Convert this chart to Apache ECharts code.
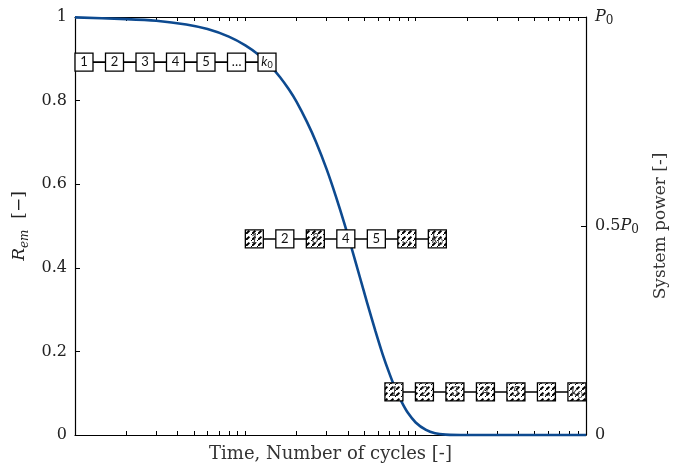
<!DOCTYPE html>
<html>
<head>
<meta charset="utf-8">
<script src="https://cdn.jsdelivr.net/npm/echarts@6/dist/echarts.min.js"></script>
<style>
  html, body { margin: 0; padding: 0; background: #fff; }
  #chart { width: 682px; height: 468px; }
</style>
</head>
<body>
<div id="chart"></div>
<script>
// Reliability of the electro-mechanical system over time (log scale of cycles)
const timeCycles = [1, 2, 3, 4.5, 6, 8, 10, 12, 14, 16, 18, 20, 23, 26, 30, 34, 38, 42, 47, 52,
                    58, 64, 70, 76, 83, 90, 100, 115, 130, 150, 200, 300, 500, 1000];
const reliability = [0.999, 0.995, 0.991, 0.982, 0.971, 0.953, 0.932, 0.909, 0.883, 0.856,
                     0.827, 0.797, 0.749, 0.701, 0.636, 0.571, 0.508, 0.448, 0.378, 0.315,
                     0.249, 0.193, 0.148, 0.111, 0.078, 0.053, 0.030, 0.012, 0.004, 0.001,
                     0, 0, 0, 0];

// Minor ticks of the logarithmic time axis
const logTickValues = [2, 3, 4, 5, 6, 7, 8, 9, 10, 20, 30, 40, 50, 60, 70, 80, 90, 100,
                       200, 300, 400, 500, 600, 700, 800, 900];

// Left axis ticks
const leftTickValues = [0, 0.2, 0.4, 0.6, 0.8, 1];

// Component chains: start time, vertical level, and failed (hatched) components
const chainLabels = ['1', '2', '3', '4', '5', '…', 'k0'];
const chainStart = [1, 10, 66];
const chainLevel = [0.892, 0.469, 0.103];
const chainFailed = [
  [0, 0, 0, 0, 0, 0, 0],
  [1, 0, 1, 0, 0, 1, 1],
  [1, 1, 1, 1, 1, 1, 1]
];

const SERIF = '"DejaVu Serif", "Liberation Serif", serif';
const BOX_FONT = 'Lato, "Open Sans", sans-serif';

function makeHatch() {
  const s = 6;
  const c = document.createElement('canvas');
  c.width = s; c.height = s;
  const g = c.getContext('2d');
  g.fillStyle = '#fff';
  g.fillRect(0, 0, s, s);
  g.strokeStyle = '#000';
  g.lineWidth = 2;
  g.lineCap = 'butt';
  g.beginPath();
  g.moveTo(0, s); g.lineTo(3.4, 2.6);
  g.stroke();
  g.fillStyle = '#000';
  g.fillRect(5, 0, 1, 1);
  return c;
}
const hatch = makeHatch();

const chart = echarts.init(document.getElementById('chart'), null, { renderer: 'canvas' });

const BOX = 18, STEP = 30.5;

function renderChain(params, api) {
  const i = params.dataIndex;
  const p = api.coord([api.value(0), api.value(1)]);
  const left = p[0], cy = p[1];
  const children = [];
  const n = chainLabels.length;
  children.push({
    type: 'line',
    shape: { x1: left + BOX / 2, y1: cy, x2: left + (n - 1) * STEP + BOX / 2, y2: cy },
    style: { stroke: '#000', lineWidth: 1.6 }
  });
  for (let k = 0; k < n; k++) {
    const x = left + k * STEP;
    const failed = chainFailed[i][k] === 1;
    const col = failed ? '#444' : '#111';
    children.push({
      type: 'rect',
      shape: { x: x, y: cy - BOX / 2, width: BOX, height: BOX },
      style: {
        fill: failed ? { image: hatch, repeat: 'repeat' } : '#fff',
        stroke: '#000',
        lineWidth: 1.3
      }
    });
    const lab = chainLabels[k];
    const txt = lab === 'k0' ? '{k|k}{z|0}' : lab;
    children.push({
      type: 'text',
      z2: 10,
      style: {
        text: txt,
        x: x + BOX / 2,
        y: cy,
        align: 'center',
        verticalAlign: 'middle',
        fontFamily: BOX_FONT,
        fontSize: 13,
        fontStyle: failed ? 'italic' : 'normal',
        fill: col,
        rich: {
          k: { fontStyle: 'italic', fontSize: 13, fontFamily: BOX_FONT, fill: col, lineHeight: 15, verticalAlign: 'middle' },
          z: { fontSize: 9, fontFamily: BOX_FONT, fill: col, lineHeight: 15, verticalAlign: 'bottom' }
        }
      }
    });
  }
  return { type: 'group', children: children };
}

const logAxisBase = {
  type: 'log',
  logBase: 10,
  min: 1,
  max: 1000,
  splitLine: { show: false },
  axisLine: { show: true, onZero: false, lineStyle: { color: '#000', width: 1.2 } },
  axisTick: { show: true, inside: true, length: 4, customValues: logTickValues, lineStyle: { color: '#000', width: 1 } },
  axisLabel: { show: false }
};

chart.setOption({
  animation: false,
  backgroundColor: '#fff',
  grid: { left: 75, right: 96, top: 17, bottom: 33 },
  xAxis: [
    Object.assign({}, logAxisBase, {
      position: 'bottom',
      name: 'Time, Number of cycles [-]',
      nameLocation: 'middle',
      nameGap: 10,
      nameTextStyle: { fontFamily: SERIF, fontSize: 18, color: '#333', verticalAlign: 'top' }
    }),
    Object.assign({}, logAxisBase, { position: 'top' })
  ],
  yAxis: [
    {
      type: 'value',
      position: 'left',
      min: 0,
      max: 1,
      interval: 0.2,
      splitLine: { show: false },
      axisLine: { show: true, onZero: false, lineStyle: { color: '#000', width: 1.2 } },
      axisTick: { show: true, inside: true, length: 5, customValues: leftTickValues, lineStyle: { color: '#000' } },
      axisLabel: {
        margin: 8,
        fontFamily: SERIF,
        fontSize: 16,
        color: '#222',
        formatter: v => (v === 0 || v === 1) ? String(v) : v.toFixed(1)
      },
      name: '{r|R}{s|em}{n|  [−]}',
      nameLocation: 'middle',
      nameRotate: 90,
      nameGap: 43,
      nameTextStyle: {
        rich: {
          r: { fontFamily: SERIF, fontStyle: 'italic', fontSize: 17, color: '#222', lineHeight: 22, verticalAlign: 'middle' },
          s: { fontFamily: SERIF, fontStyle: 'italic', fontSize: 12, color: '#222', lineHeight: 22, verticalAlign: 'bottom' },
          n: { fontFamily: SERIF, fontSize: 17, color: '#222', lineHeight: 22, verticalAlign: 'middle' }
        }
      }
    },
    {
      type: 'value',
      position: 'right',
      min: 0,
      max: 1,
      interval: 0.5,
      splitLine: { show: false },
      axisLine: { show: true, onZero: false, lineStyle: { color: '#000', width: 1.2 } },
      axisTick: { show: true, inside: true, length: 5, lineStyle: { color: '#000' } },
      axisLabel: {
        margin: 9,
        fontFamily: SERIF,
        fontSize: 16,
        color: '#222',
        formatter: v => v === 0 ? '0' : (v === 1 ? '{i|P}{s|0}' : '0.5{i|P}{s|0}'),
        rich: {
          i: { fontFamily: SERIF, fontStyle: 'italic', fontSize: 16, color: '#222', lineHeight: 20, verticalAlign: 'middle' },
          s: { fontFamily: SERIF, fontSize: 12, color: '#222', lineHeight: 20, verticalAlign: 'bottom' }
        }
      },
      name: 'System power [-]',
      nameLocation: 'middle',
      nameRotate: 90,
      nameGap: 66,
      nameTextStyle: { fontFamily: SERIF, fontSize: 17, color: '#333' }
    }
  ],
  series: [
    {
      type: 'line',
      xAxisIndex: 0,
      yAxisIndex: 0,
      data: timeCycles.map((t, i) => [t, reliability[i]]),
      showSymbol: false,
      smooth: 0.2,
      clip: false,
      z: 3,
      lineStyle: { color: '#0d4a90', width: 2.6 }
    },
    {
      type: 'custom',
      xAxisIndex: 0,
      yAxisIndex: 0,
      clip: false,
      z: 5,
      data: chainStart.map((t, i) => [t, chainLevel[i]]),
      renderItem: renderChain
    }
  ]
});
</script>
</body>
</html>
